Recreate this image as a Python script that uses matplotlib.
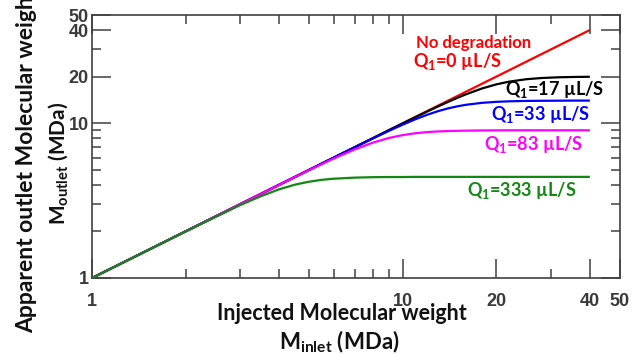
import matplotlib
matplotlib.use("Agg")
import matplotlib.pyplot as plt
from matplotlib import font_manager

# Injected molecular weight grid (MDa)
m_inlet = [1, 2, 3, 3.5, 4, 4.5, 5, 5.5, 6, 7, 8, 9, 10, 11, 12, 13, 14, 15,
           16, 18, 20, 22, 25, 28, 32, 36, 40]

# Apparent outlet molecular weight (MDa) for each flow rate
out_q0 = [1, 2, 3, 3.5, 4, 4.5, 5, 5.5, 6, 7, 8, 9, 10, 11, 12, 13, 14, 15,
          16, 18, 20, 22, 25, 28, 32, 36, 40]
out_q17 = [1, 2, 3, 3.5, 4, 4.5, 5, 5.5, 6, 7, 7.99, 8.99, 9.97, 10.95, 11.91,
           12.84, 13.74, 14.60, 15.39, 16.77, 17.82, 18.56, 19.24, 19.59,
           19.81, 19.90, 19.95]
out_q33 = [1, 2, 3, 3.5, 4, 4.5, 5, 5.5, 5.99, 6.98, 7.95, 8.90, 9.79, 10.62,
           11.35, 11.97, 12.47, 12.86, 13.16, 13.54, 13.74, 13.85, 13.93,
           13.96, 13.98, 14.0, 14.0]
out_q83 = [1, 2, 3, 3.5, 3.99, 4.49, 4.98, 5.45, 5.92, 6.77, 7.48, 8.02, 8.38,
           8.62, 8.76, 8.85, 8.90, 8.93, 8.95, 8.98, 8.99, 9.0, 9.0, 9.0, 9.0,
           9.0, 9.0]
out_q333 = [1, 2, 2.96, 3.38, 3.74, 4.01, 4.19, 4.31, 4.38, 4.45, 4.48, 4.49,
            4.49, 4.5, 4.5, 4.5, 4.5, 4.5, 4.5, 4.5, 4.5, 4.5, 4.5, 4.5, 4.5,
            4.5, 4.5]

major_ticks = [1, 10, 20, 40, 50]
major_labels = ["1", "10", "20", "40", "50"]
minor_ticks = [2, 3, 4, 5, 6, 7, 8, 9, 30]

series = [
    (out_q0, "#ff0000", 1),
    (out_q17, "#000000", 2),
    (out_q33, "#0000ff", 3),
    (out_q83, "#ff00ff", 4),
    (out_q333, "#118811", 5),
]

names = {f.name for f in font_manager.fontManager.ttflist}
tick_family = "Liberation Sans Narrow" if "Liberation Sans Narrow" in names else "Liberation Sans"
text_family = "Lato"

plt.rcParams["mathtext.fontset"] = "custom"
plt.rcParams["mathtext.rm"] = "Lato:bold"
plt.rcParams["mathtext.it"] = "Lato:bold"
plt.rcParams["mathtext.bf"] = "Lato:bold"

fig = plt.figure(figsize=(6.42, 3.54), dpi=100)
ax = fig.add_axes([0.1433, 0.2147, 0.8224, 0.7429])

for ys, color, z in series:
    ax.plot(m_inlet, ys, color=color, lw=1.6, zorder=z, solid_capstyle="butt")

ax.set_xscale("log")
ax.set_yscale("log")
ax.set_xlim(1, 50)
ax.set_ylim(1, 50)

axis_grey = "#404040"
for sp in ax.spines.values():
    sp.set_color(axis_grey)
    sp.set_linewidth(1.2)

ax.set_xticks(major_ticks)
ax.set_xticklabels(major_labels)
ax.set_yticks(major_ticks)
ax.set_yticklabels(major_labels)
ax.set_xticks(minor_ticks, minor=True)
ax.set_yticks(minor_ticks, minor=True)
ax.xaxis.set_minor_formatter(plt.NullFormatter())
ax.yaxis.set_minor_formatter(plt.NullFormatter())

ax.tick_params(which="both", direction="in", top=True, right=True,
               color=axis_grey, width=1.1)
ax.tick_params(which="major", length=13.5)
ax.tick_params(which="minor", length=6.5)
ax.tick_params(axis="x", which="major", pad=11)
ax.tick_params(axis="y", which="major", pad=2.5)
for lab in ax.get_xticklabels() + ax.get_yticklabels():
    lab.set_fontfamily(tick_family)
    lab.set_fontweight("bold")
    lab.set_fontsize(13)
    lab.set_color("#3a3a3a")

# Curve annotations
ann = dict(fontfamily=text_family, fontweight="bold", ha="center", va="center")
fig.text(474 / 642, 1 - 43 / 354, "No degradation", color="#ff0000", fontsize=12, **ann)
fig.text(457 / 642, 1 - 62 / 354, "Q$_{1}$=0 µL/S", color="#ff0000", fontsize=13, **ann)
fig.text(555 / 642, 1 - 90 / 354, "Q$_{1}$=17 µL/S", color="#000000", fontsize=13, **ann)
fig.text(541 / 642, 1 - 115 / 354, "Q$_{1}$=33 µL/S", color="#0000ff", fontsize=13, **ann)
fig.text(534 / 642, 1 - 145 / 354, "Q$_{1}$=83 µL/S", color="#ff00ff", fontsize=13, **ann)
fig.text(522 / 642, 1 - 190 / 354, "Q$_{1}$=333 µL/S", color="#118811", fontsize=13, **ann)

# Axis titles
lab = dict(fontfamily=text_family, fontweight="bold", color="#111111",
           ha="center", va="center")
fig.text(342 / 642, 1 - 313 / 354, "Injected Molecular weight", fontsize=15.5, **lab)
fig.text(339 / 642, 1 - 342 / 354, "M$_{\\mathrm{inlet}}$ (MDa)", fontsize=16, **lab)
fig.text(27 / 642, 1 - 160 / 354, "Apparent outlet Molecular weight",
         rotation=90, fontsize=16.5, **lab)
fig.text(58 / 642, 1 - 163 / 354, "M$_{\\mathrm{outlet}}$ (MDa)",
         rotation=90, fontsize=15, **lab)

fig.savefig("out.png", dpi=100)
